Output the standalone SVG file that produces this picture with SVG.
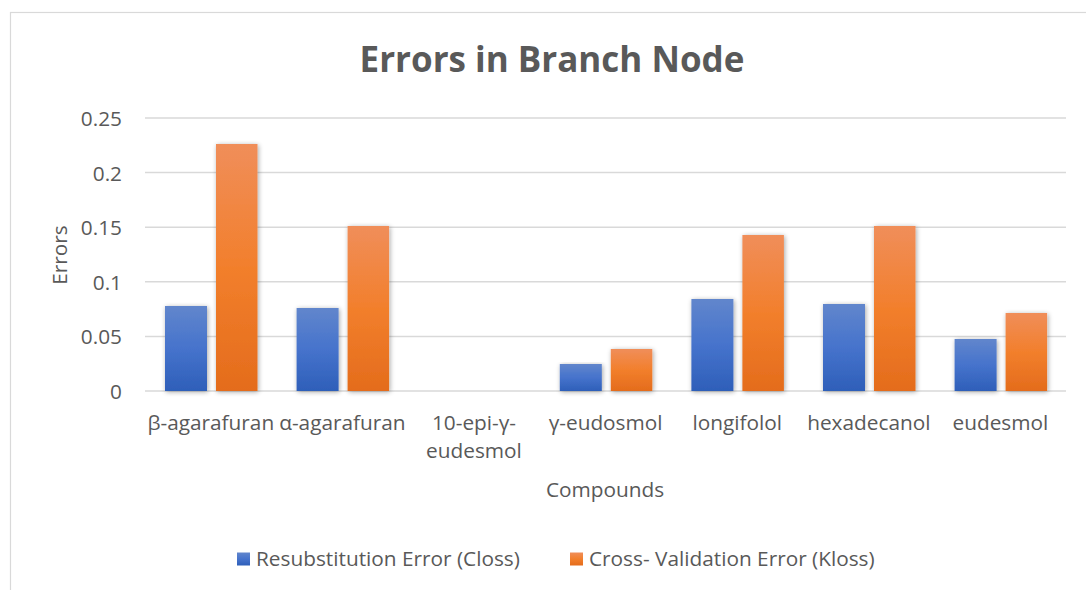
<svg xmlns="http://www.w3.org/2000/svg" width="1086" height="590" viewBox="0 0 1086 590">
  <style>
    .lbl { font-family: "Open Sans", Lato, sans-serif; font-size: 20.8px; fill: #595959; }
    .tick { text-anchor: end; }
    .cat { text-anchor: middle; }
    .title { font-family: "Open Sans", Lato, sans-serif; font-size: 35px; font-weight: bold; fill: #595959; text-anchor: middle; }
    .grid { stroke: #d9d9d9; stroke-width: 1.5; }
    .blue { fill: url(#gBlue); filter: url(#shadow); }
    .orange { fill: url(#gOrange); filter: url(#shadow); }
  </style>
  <defs>
    <linearGradient id="gBlue" x1="0" y1="0" x2="0" y2="1">
      <stop offset="0" stop-color="#6186cc"/>
      <stop offset="0.5" stop-color="#4673cc"/>
      <stop offset="1" stop-color="#2e5fb9"/>
    </linearGradient>
    <linearGradient id="gOrange" x1="0" y1="0" x2="0" y2="1">
      <stop offset="0" stop-color="#f08e5a"/>
      <stop offset="0.5" stop-color="#f27f2c"/>
      <stop offset="1" stop-color="#e46c1c"/>
    </linearGradient>
    <filter id="shadow" x="-30%" y="-10%" width="160%" height="130%">
      <feGaussianBlur in="SourceAlpha" stdDeviation="2.5"/>
      <feOffset dx="1" dy="1" result="b"/>
      <feComponentTransfer><feFuncA type="linear" slope="0.35"/></feComponentTransfer>
      <feMerge><feMergeNode/><feMergeNode in="SourceGraphic"/></feMerge>
    </filter>
  </defs>

  <rect x="0" y="0" width="1086" height="590" fill="#ffffff"/>
  <!-- chart area frame -->
  <rect x="10.5" y="12.5" width="1090" height="600" fill="#ffffff" stroke="#d9d9d9" stroke-width="1.2"/>

  <text class="title" x="552" y="72">Errors in Branch Node</text>

  <!-- value axis gridlines and ticks -->
  <g id="axis-y">
    <line class="grid" x1="145" y1="118" x2="1066" y2="118"/>
    <line class="grid" x1="145" y1="172.6" x2="1066" y2="172.6"/>
    <line class="grid" x1="145" y1="227.2" x2="1066" y2="227.2"/>
    <line class="grid" x1="145" y1="281.8" x2="1066" y2="281.8"/>
    <line class="grid" x1="145" y1="336.4" x2="1066" y2="336.4"/>
    <line class="grid" x1="145" y1="391" x2="1066" y2="391"/>
    <text class="lbl tick" x="122" y="126">0.25</text>
    <text class="lbl tick" x="122" y="180.6">0.2</text>
    <text class="lbl tick" x="122" y="235.2">0.15</text>
    <text class="lbl tick" x="122" y="289.8">0.1</text>
    <text class="lbl tick" x="122" y="344.4">0.05</text>
    <text class="lbl tick" x="122" y="399">0</text>
    <text class="lbl cat" transform="translate(67 255) rotate(-90)">Errors</text>
  </g>

  <!-- bars: 0 at y=391, 1092 px per unit -->
  <g id="bars-resubstitution">
    <rect class="blue" x="165" y="306" width="42" height="85"/>
    <rect class="blue" x="296.6" y="308" width="42" height="83"/>
    <rect class="blue" x="559.8" y="364" width="42" height="27"/>
    <rect class="blue" x="691.4" y="299" width="42" height="92"/>
    <rect class="blue" x="823" y="304" width="42" height="87"/>
    <rect class="blue" x="954.6" y="339" width="42" height="52"/>
  </g>
  <g id="bars-crossvalidation">
    <rect class="orange" x="216" y="144" width="41.5" height="247"/>
    <rect class="orange" x="347.6" y="226" width="41.5" height="165"/>
    <rect class="orange" x="610.8" y="349" width="41.5" height="42"/>
    <rect class="orange" x="742.4" y="235" width="41.5" height="156"/>
    <rect class="orange" x="874" y="226" width="41.5" height="165"/>
    <rect class="orange" x="1005.6" y="313" width="41.5" height="78"/>
  </g>

  <!-- category axis -->
  <g id="axis-x">
    <text class="lbl cat" x="210.8" y="430">β-agarafuran</text>
    <text class="lbl cat" x="342.4" y="430">α-agarafuran</text>
    <text class="lbl cat" x="474" y="430">10-epi-γ-</text>
    <text class="lbl cat" x="474" y="458">eudesmol</text>
    <text class="lbl cat" x="605.6" y="430">γ-eudosmol</text>
    <text class="lbl cat" x="737.2" y="430">longifolol</text>
    <text class="lbl cat" x="868.8" y="430">hexadecanol</text>
    <text class="lbl cat" x="1000.4" y="430">eudesmol</text>
    <text class="lbl cat" x="605" y="497">Compounds</text>
  </g>

  <!-- legend -->
  <g id="legend">
    <rect x="237" y="552.5" width="13" height="13" fill="url(#gBlue)"/>
    <text class="lbl" x="256" y="566">Resubstitution Error (Closs)</text>
    <rect x="570" y="552.5" width="13" height="13" fill="url(#gOrange)"/>
    <text class="lbl" x="589" y="566">Cross- Validation Error (Kloss)</text>
  </g>
</svg>
